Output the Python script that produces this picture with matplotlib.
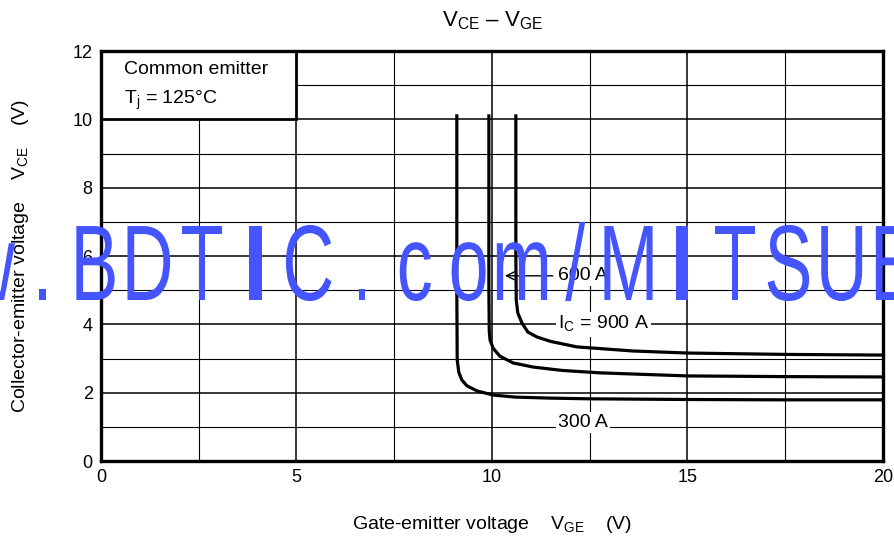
import matplotlib.pyplot as plt
import matplotlib.transforms as mtransforms
from matplotlib.patches import Rectangle, PathPatch
from matplotlib.textpath import TextPath
from matplotlib.font_manager import FontProperties

plt.rcParams['font.family'] = ['Liberation Sans', 'DejaVu Sans']
plt.rcParams['mathtext.fontset'] = 'custom'
plt.rcParams['mathtext.rm'] = 'Liberation Sans'

# curves (Tj = 125 C)
vge_300 = [9.1, 9.1, 9.11, 9.15, 9.23, 9.36, 9.62, 10.03, 10.6, 11.5, 12.5, 15, 17.5, 20]
vce_300 = [10.1, 5.0, 2.96, 2.6, 2.37, 2.2, 2.05, 1.93, 1.87, 1.84, 1.82, 1.8, 1.79, 1.79]

vge_600 = [9.92, 9.92, 9.93, 9.95, 10.03, 10.2, 10.54, 11.05, 11.8, 12.76, 15, 17.5, 20]
vce_600 = [10.1, 5.0, 3.8, 3.54, 3.3, 3.07, 2.87, 2.75, 2.65, 2.58, 2.49, 2.47, 2.46]

vge_900 = [10.61, 10.61, 10.62, 10.66, 10.77, 10.92, 11.15, 11.5, 12.17, 13.6, 15, 17.5, 20]
vce_900 = [10.1, 6.0, 4.71, 4.33, 4.03, 3.77, 3.63, 3.5, 3.34, 3.22, 3.16, 3.12, 3.1]

x_ticks = [0, 5, 10, 15, 20]
y_ticks = [0, 2, 4, 6, 8, 10, 12]
x_grid = [2.5, 5, 7.5, 10, 12.5, 15, 17.5]
y_grid = [1, 2, 3, 4, 5, 6, 7, 8, 9, 10, 11]

fig = plt.figure(figsize=(8.95, 5.42), dpi=100)
ax = fig.add_axes([101/895, 81/542, 782/895, 410/542])

for x in x_grid:
    lw = 1.1 if x % 5 == 0 else 0.8
    ax.axvline(x, color='black', lw=lw, zorder=1)
for y in y_grid:
    lw = 1.1 if y % 2 == 0 else 0.8
    ax.axhline(y, color='black', lw=lw, zorder=1)

# condition box in upper left corner
ax.add_patch(Rectangle((0, 10), 5, 2, facecolor='white', edgecolor='black', lw=2, zorder=2))
ax.text(0.6, 11.45, 'Common emitter', fontsize=14, va='center', zorder=3)
ax.text(0.6, 10.55, r'T$_\mathregular{j}$ = 125°C', fontsize=14, va='center', zorder=3)

ax.plot(vge_300, vce_300, color='black', lw=2.3, zorder=4)
ax.plot(vge_600, vce_600, color='black', lw=2.3, zorder=4)
ax.plot(vge_900, vce_900, color='black', lw=2.3, zorder=4)

box = dict(facecolor='white', edgecolor='none', pad=1.5)
ax.annotate('600 A', xy=(10.33, 5.42), xytext=(11.68, 5.42), fontsize=14, va='center',
            bbox=box, zorder=5,
            arrowprops=dict(arrowstyle='->', color='black', lw=1, shrinkA=2, shrinkB=0))
ax.text(11.68, 4.0, r'I$_\mathregular{C}$ = 900 A', fontsize=14, va='center', bbox=box, zorder=5)
ax.text(11.68, 1.12, '300 A', fontsize=14, va='center', bbox=box, zorder=5)

ax.set_xlim(0, 20)
ax.set_ylim(0, 12)
ax.set_xticks(x_ticks)
ax.set_yticks(y_ticks)
ax.tick_params(length=0, labelsize=13, pad=6)
for s in ax.spines.values():
    s.set_linewidth(2.4)
    s.set_zorder(6)

ax.set_title(r'V$_\mathregular{CE}$ – V$_\mathregular{GE}$', fontsize=16, pad=18)
ax.set_xlabel(r'Gate-emitter voltage    V$_\mathregular{GE}$    (V)', fontsize=14, labelpad=20)
ax.set_ylabel(r'Collector-emitter voltage    V$_\mathregular{CE}$    (V)', fontsize=14, labelpad=30)

# blue watermark over the chart, one glyph per fixed-width cell
wm_text = 'www.BDTIC.com/MITSUBISHI'
fp = FontProperties(family='Liberation Sans')
sy = 1.075
cell = 53.3
first_center = -117.7
baseline = 242
for i, ch in enumerate(wm_text):
    sx = 1.35 if ch == 'I' else 0.72
    tp = TextPath((0, 0), ch, size=100, prop=fp)
    ext = tp.get_extents()
    cx = (ext.x0 + ext.x1) / 2 * sx
    px = first_center + i * cell - cx
    tr = mtransforms.Affine2D().scale(sx / 100, sy / 100).translate(px / 100, baseline / 100) + fig.dpi_scale_trans
    fig.add_artist(PathPatch(tp, transform=tr, facecolor='#4455ff', edgecolor='none', zorder=10))

fig.savefig('out.png', dpi=100)
